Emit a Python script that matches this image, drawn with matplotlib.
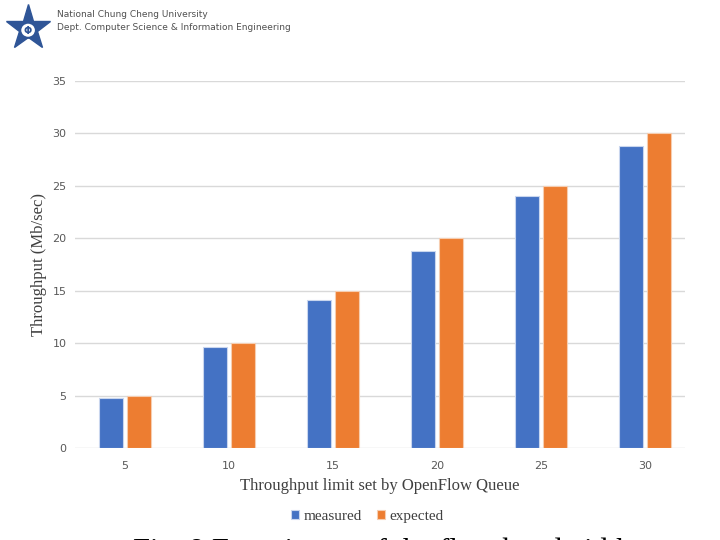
import numpy as np
import matplotlib
matplotlib.use('Agg')
from matplotlib import pyplot as plt
from matplotlib.patches import Circle

########## data ##########
limits = ['5', '10', '15', '20', '25', '30']
measured = [4.8, 9.6, 14.1, 18.8, 24.0, 28.8]
expected = [5, 10, 15, 20, 25, 30]

blue = '#4472C4'
orange = '#ED7D31'

fig = plt.figure(figsize=(7.2, 5.4), dpi=100)
ax = fig.add_axes([0.104, 0.170, 0.847, 0.680])

x = np.arange(len(limits))
w = 0.23
ax.bar(x - w/2 - 0.02, measured, w, color=blue, edgecolor='#c9d6ee', linewidth=0.8, label='measured', zorder=3)
ax.bar(x + w/2 + 0.02, expected, w, color=orange, edgecolor='#f6cdb0', linewidth=0.8, label='expected', zorder=3)

ax.set_ylim(0, 35)
ax.set_xlim(-0.48, 5.38)
ax.set_yticks(np.arange(0, 36, 5))
ax.set_xticks(x)
ax.set_xticklabels(limits)
ax.grid(axis='y', color='#d9d9d9', linewidth=1, zorder=0)
for s in ax.spines.values():
    s.set_visible(False)
ax.tick_params(length=0, labelsize=8, colors='#595959')
ax.tick_params(axis='x', pad=9)
ax.tick_params(axis='y', pad=6)

ax.set_xlabel('Throughput limit set by OpenFlow Queue', family='Liberation Serif', fontsize=12, color='#404040', labelpad=5)
ax.set_ylabel('Throughput (Mb/sec)', family='Liberation Serif', fontsize=12, color='#404040', labelpad=4)

leg = fig.legend(loc='center', bbox_to_anchor=(0.51, 0.044), ncol=2, frameon=False,
                 prop={'family': 'Liberation Serif', 'size': 11}, handlelength=0.5, handleheight=0.5,
                 handletextpad=0.3, columnspacing=1.0)
for t in leg.get_texts():
    t.set_color('#404040')

############ header and logo ############
fig.text(0.079, 0.973, 'National Chung Cheng University', fontsize=6.5, color='#505050', va='center', family='DejaVu Sans')
fig.text(0.079, 0.949, 'Dept. Computer Science & Information Engineering', fontsize=6.5, color='#505050', va='center', family='DejaVu Sans')

lax = fig.add_axes([0.0, 0.9, 0.078, 0.1])
lax.set_xlim(-1, 1)
lax.set_ylim(-1, 1)
lax.axis('off')
lax.plot(0, -0.05, marker='*', markersize=34, color='#2f5597', mec='#2f5597', clip_on=False, zorder=1)
lax.add_patch(Circle((0, -0.12), 0.28, facecolor='white', edgecolor='#2f5597', lw=1.5, zorder=3))
lax.text(0, -0.14, 'Φ', ha='center', va='center', fontsize=7, color='#2f5597', weight='bold', zorder=4)

############ caption, cut off at bottom ############
fig.text(0.185, -0.05, 'Fig. 8 Experiment of the flow bandwidth', family='Liberation Serif', fontsize=22, color='black', va='bottom')

fig.savefig('out.png', dpi=100)
